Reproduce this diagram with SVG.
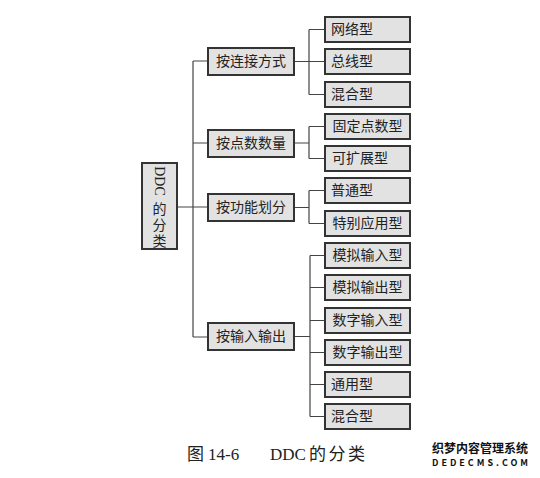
<svg xmlns="http://www.w3.org/2000/svg" width="540" height="478" viewBox="0 0 540 478">
<style>
.bx{fill:#e2e2e2;stroke:#333;stroke-width:2}
.t{font-family:"Liberation Serif","Noto Sans CJK SC",serif;font-size:14px;fill:#222;text-anchor:middle;dominant-baseline:central}
.c{fill:none;stroke:#444;stroke-width:1.2}
.cap{font-family:"Liberation Serif","Noto Sans CJK SC",serif;font-size:17px;fill:#222}
.wm{font-family:"Noto Sans CJK SC","Liberation Sans",sans-serif;font-weight:bold;fill:#111}
</style>
<rect width="540" height="478" fill="#fff"/>
<g id="connectors" class="c">
<path d="M177,207H208M193,61V337M193,61H208M193,143H208M193,337H208"/>
<path d="M294,61.5H309M309,29.5V94.5M309,29.5H325M309,61.5H325M309,94.5H325"/>
<path d="M294,143H309M309,126.5V158.5M309,126.5H325M309,158.5H325"/>
<path d="M294,207.5H309M309,190.5V223.5M309,190.5H325M309,223.5H325"/>
<path d="M294,336.5H310M310,255.5V416.5M310,255.5H325M310,287.5H325M310,320.5H325M310,352.5H325M310,384.5H325M310,416.5H325"/>
</g>
<g id="root">
<rect class="bx" x="142" y="163" width="35" height="86"/>
<text class="t" transform="translate(159.5,181) rotate(90)">DDC</text>
<text class="t" x="159.5" y="209">的</text>
<text class="t" x="159.5" y="225">分</text>
<text class="t" x="159.5" y="241">类</text>
</g>
<g id="n1"><rect class="bx" x="208" y="48" width="86" height="27"/><text class="t" x="251" y="61.5">按连接方式</text></g>
<g id="n2"><rect class="bx" x="208" y="130" width="86" height="27"/><text class="t" x="251" y="143.5">按点数数量</text></g>
<g id="n3"><rect class="bx" x="208" y="194" width="86" height="27"/><text class="t" x="251" y="207.5">按功能划分</text></g>
<g id="n4"><rect class="bx" x="208" y="323" width="86" height="27"/><text class="t" x="251" y="336.5">按输入输出</text></g>
<g id="l1"><rect class="bx" x="325" y="17" width="85" height="25"/><text class="t" x="352" y="29.5">网络型</text></g>
<g id="l2"><rect class="bx" x="325" y="49" width="85" height="25"/><text class="t" x="352" y="61.5">总线型</text></g>
<g id="l3"><rect class="bx" x="325" y="82" width="85" height="25"/><text class="t" x="352" y="94.5">混合型</text></g>
<g id="l4"><rect class="bx" x="325" y="114" width="85" height="25"/><text class="t" x="367.5" y="126.5">固定点数型</text></g>
<g id="l5"><rect class="bx" x="325" y="146" width="85" height="25"/><text class="t" x="360" y="158.5">可扩展型</text></g>
<g id="l6"><rect class="bx" x="325" y="178" width="85" height="25"/><text class="t" x="352" y="190.5">普通型</text></g>
<g id="l7"><rect class="bx" x="325" y="211" width="85" height="25"/><text class="t" x="367.5" y="223.5">特别应用型</text></g>
<g id="l8"><rect class="bx" x="325" y="243" width="85" height="25"/><text class="t" x="367.5" y="255.5">模拟输入型</text></g>
<g id="l9"><rect class="bx" x="325" y="275" width="85" height="25"/><text class="t" x="367.5" y="287.5">模拟输出型</text></g>
<g id="l10"><rect class="bx" x="325" y="308" width="85" height="25"/><text class="t" x="367.5" y="320.5">数字输入型</text></g>
<g id="l11"><rect class="bx" x="325" y="340" width="85" height="25"/><text class="t" x="367.5" y="352.5">数字输出型</text></g>
<g id="l12"><rect class="bx" x="325" y="372" width="85" height="25"/><text class="t" x="352" y="384.5">通用型</text></g>
<g id="l13"><rect class="bx" x="325" y="404" width="85" height="25"/><text class="t" x="352" y="416.5">混合型</text></g>
<text class="cap" y="460"><tspan x="187">图</tspan><tspan x="208">14-6</tspan><tspan x="270">DDC</tspan><tspan x="309" textLength="56" lengthAdjust="spacing">的分类</tspan></text>
<text class="wm" x="432" y="453" font-size="12" textLength="96" lengthAdjust="spacingAndGlyphs">织梦内容管理系统</text>
<text class="wm" x="432" y="466" font-size="9" textLength="96" lengthAdjust="spacing">DEDECMS.COM</text>
</svg>
